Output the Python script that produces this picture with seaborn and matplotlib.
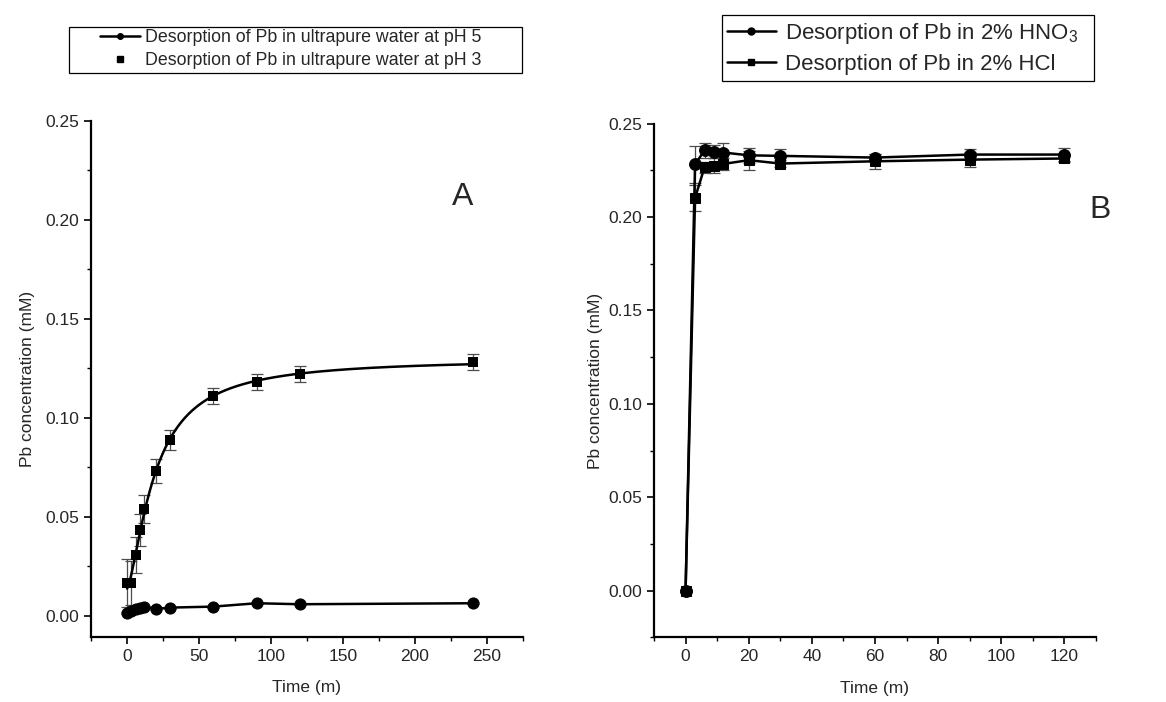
import numpy as np
import pandas as pd
import matplotlib
matplotlib.use("Agg")
import matplotlib.pyplot as plt
from matplotlib.lines import Line2D
from matplotlib.patches import Rectangle
from matplotlib.ticker import MultipleLocator, FormatStrFormatter
import seaborn as sns

# Panel A: ultrapure water
time_a = [0, 3, 6, 9, 12, 20, 30, 60, 90, 120, 240]
ph5_conc = [0.0013, 0.0025, 0.0035, 0.0040, 0.0047, 0.0035, 0.0042, 0.0047, 0.0064, 0.0059, 0.0064]
ph5_err = [0.0005, 0.0005, 0.0005, 0.0005, 0.0005, 0.0005, 0.0005, 0.0005, 0.0005, 0.0005, 0.0005]
ph3_conc = [0.0165, 0.0165, 0.0309, 0.0435, 0.054, 0.073, 0.089, 0.111, 0.118, 0.122, 0.128]
ph3_err = [0.012, 0.011, 0.009, 0.008, 0.007, 0.006, 0.005, 0.004, 0.004, 0.004, 0.004]

# Panel B: acids
time_b = [0, 3, 6, 9, 12, 20, 30, 60, 90, 120]
hno3_conc = [0.0, 0.2281, 0.2357, 0.2348, 0.2345, 0.2330, 0.2327, 0.2318, 0.2334, 0.2334]
hno3_err = [0.0005, 0.010, 0.004, 0.0035, 0.005, 0.004, 0.0035, 0.002, 0.003, 0.0035]
hcl_conc = [0.0, 0.2102, 0.2266, 0.2275, 0.2284, 0.2304, 0.2286, 0.2298, 0.2307, 0.2313]
hcl_err = [0.0005, 0.0068, 0.003, 0.004, 0.003, 0.005, 0.002, 0.004, 0.004, 0.002]

sns.set_theme(style="ticks")
plt.rcParams["font.family"] = ["Liberation Sans", "DejaVu Sans"]
plt.rcParams["mathtext.fontset"] = "custom"
plt.rcParams["mathtext.rm"] = "Liberation Sans"
plt.rcParams["mathtext.it"] = "Liberation Sans:italic"
plt.rcParams["xtick.direction"] = "out"
plt.rcParams["ytick.direction"] = "out"

FS = 12.5
ERR_KW = dict(fmt="none", ecolor="0.3", elinewidth=0.9, capsize=4, capthick=0.9, zorder=2)


def fit_hill(t, q):
    """q = c + a*t^n/(b^n + t^n); b, n by grid search, a and c by least squares."""
    t = np.asarray(t, float)
    q = np.asarray(q, float)
    best = None
    for n in np.linspace(0.8, 2.0, 61):
        for b in np.linspace(5, 80, 151):
            g = t ** n / (b ** n + t ** n)
            X = np.column_stack([np.ones_like(t), g])
            coef, *_ = np.linalg.lstsq(X, q, rcond=None)
            sse = np.sum((X @ coef - q) ** 2)
            if best is None or sse < best[0]:
                best = (sse, b, n, coef)
    _, b, n, (c, a) = best
    return lambda x: c + a * x ** n / (b ** n + x ** n)


def style_axis(ax, xmaj, xmin, xlim, ylim, ylabelpad):
    sns.despine(ax=ax)
    ax.set_xlim(*xlim)
    ax.set_ylim(*ylim)
    ax.xaxis.set_major_locator(MultipleLocator(xmaj))
    ax.xaxis.set_minor_locator(MultipleLocator(xmin))
    ax.yaxis.set_major_locator(MultipleLocator(0.05))
    ax.yaxis.set_minor_locator(MultipleLocator(0.025))
    ax.yaxis.set_major_formatter(FormatStrFormatter("%.2f"))
    ax.tick_params(which="major", length=5, width=1.2, labelsize=FS, color="black")
    ax.tick_params(which="minor", length=3, width=1.0, color="black")
    for s in ("left", "bottom"):
        ax.spines[s].set_linewidth(1.6)
        ax.spines[s].set_color("black")
    ax.set_xlabel("Time (m)", fontsize=FS, labelpad=12)
    ax.set_ylabel("Pb concentration (mM)", fontsize=FS, labelpad=ylabelpad)


def fig_box(x0, y0, x1, y1):
    """Legend frame drawn in figure pixels (top-left origin)."""
    W, H = 1166, 702
    fig.patches.append(Rectangle((x0 / W, 1 - y1 / H), (x1 - x0) / W, (y1 - y0) / H,
                                 transform=fig.transFigure, fill=False,
                                 edgecolor="black", linewidth=0.9, zorder=5))


fig = plt.figure(figsize=(11.66, 7.02), dpi=100)
ax_a = fig.add_axes([91 / 1166, 0.093, 432 / 1166, 0.735])
ax_b = fig.add_axes([654 / 1166, 0.092, 442 / 1166, 0.732])

# ---- Panel A
df_a = pd.DataFrame({"time": time_a, "ph5": ph5_conc, "ph3": ph3_conc})
ax_a.errorbar(time_a, ph3_conc, yerr=ph3_err, **ERR_KW)
ax_a.errorbar(time_a, ph5_conc, yerr=ph5_err, **ERR_KW)
curve = fit_hill(time_a, ph3_conc)
t_fit = np.linspace(0, 240, 400)
sns.lineplot(x=t_fit, y=curve(t_fit), color="black", linewidth=1.8, ax=ax_a, zorder=3)
sns.lineplot(data=df_a, x="time", y="ph5", color="black", linewidth=1.8,
             marker="o", markersize=8, markeredgecolor="black", ax=ax_a, zorder=4)
sns.scatterplot(data=df_a, x="time", y="ph3", color="black", marker="s", s=55,
                edgecolor="black", linewidth=0, ax=ax_a, zorder=4)
style_axis(ax_a, 50, 25, (-25, 275), (-0.0105, 0.25), 7)
ax_a.text(0.861, 0.852, "A", transform=ax_a.transAxes, fontsize=23,
          ha="center", va="center")

handles_a = [
    Line2D([], [], color="black", linewidth=1.8, marker="o", markersize=4),
    Line2D([], [], color="black", linestyle="none", marker="s", markersize=4),
]
labels_a = ["Desorption of Pb in ultrapure water at pH 5",
            "Desorption of Pb in ultrapure water at pH 3"]
fig.legend(handles_a, labels_a, loc="upper left", bbox_to_anchor=(100 / 1166, 0.9587),
           fontsize=12.8, frameon=False, borderpad=0, borderaxespad=0,
           labelspacing=0.35, handlelength=2.25, handletextpad=0.28)
fig_box(69, 27, 522, 73)

# ---- Panel B
df_b = pd.DataFrame({"time": time_b, "hno3": hno3_conc, "hcl": hcl_conc})
ax_b.errorbar(time_b, hno3_conc, yerr=hno3_err, **ERR_KW)
ax_b.errorbar(time_b, hcl_conc, yerr=hcl_err, **ERR_KW)
sns.lineplot(data=df_b, x="time", y="hcl", color="black", linewidth=1.8,
             marker="s", markersize=7.5, markeredgecolor="black", ax=ax_b, zorder=4)
sns.lineplot(data=df_b, x="time", y="hno3", color="black", linewidth=1.8,
             marker="o", markersize=8.5, markeredgecolor="black", ax=ax_b, zorder=4)
style_axis(ax_b, 20, 10, (-10, 130), (-0.025, 0.25), 4)
ax_b.text(1.009, 0.831, "B", transform=ax_b.transAxes, fontsize=23,
          ha="center", va="center")

handles_b = [
    Line2D([], [], color="black", linewidth=1.8, marker="o", markersize=5),
    Line2D([], [], color="black", linewidth=1.8, marker="s", markersize=5),
]
labels_b = ["Desorption of Pb in 2% HNO$_3$", "Desorption of Pb in 2% HCl"]
fig.legend(handles_b, labels_b, loc="upper left", bbox_to_anchor=(727 / 1166, 0.970),
           fontsize=16, frameon=False, borderpad=0, borderaxespad=0,
           labelspacing=0.35, handlelength=2.2, handletextpad=0.4)
fig_box(722, 15, 1094, 81)

fig.savefig("out.png", dpi=100, facecolor="white")
